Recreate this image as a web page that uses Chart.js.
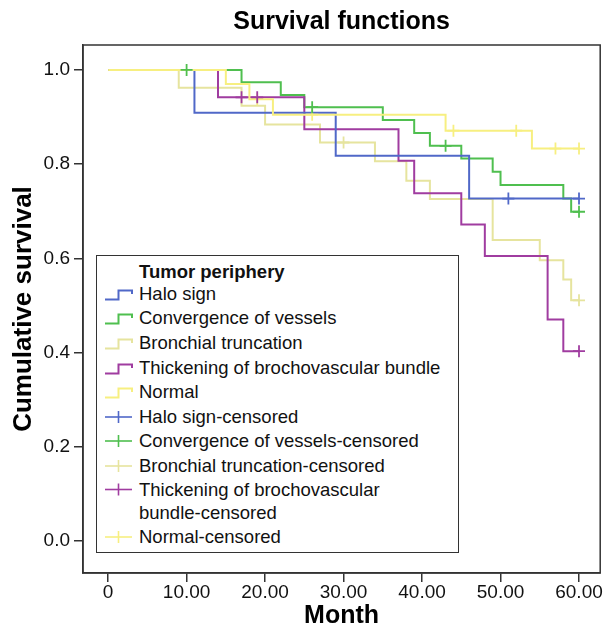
<!DOCTYPE html>
<html>
<head>
<meta charset="utf-8">
<title>Survival functions</title>
<script src="https://cdn.jsdelivr.net/npm/chart.js@4.4.0/dist/chart.umd.min.js"></script>
<style>
  body { margin: 0; background: #fff; }
  #wrap { position: relative; width: 608px; height: 626px; }
  #legend {
    position: absolute; left: 96px; top: 255px; width: 363px; height: 298px;
    box-sizing: border-box; border: 1.2px solid #333; background: #fff;
    padding-top: 4.5px;
    font-family: "Liberation Sans", Arial, sans-serif; font-size: 18.5px; color: #111;
  }
  #legend .head { height: 21px; line-height: 21px; padding-left: 42px; font-weight: bold; }
  #legend .row { display: flex; align-items: center; height: 24.6px; white-space: pre-line; }
  #legend .row.two { height: 46px; align-items: flex-start; line-height: 23px; }
  #legend svg { flex: none; margin-left: 8px; margin-right: 6px; }
</style>
</head>
<body>
<div id="wrap">
  <canvas id="km"></canvas>
  <div id="legend"></div>
</div>
<script>
// groups and colours
var groups = ["Halo sign", "Convergence of vessels", "Bronchial truncation", "Thickening of brochovascular bundle", "Normal"];
var censorLabels = ["Halo sign-censored", "Convergence of vessels-censored", "Bronchial truncation-censored", "Thickening of brochovascular\nbundle-censored", "Normal-censored"];
var colors = ["#5068c8", "#4fbf4f", "#e6e49e", "#a03ca0", "#f7ef80"];

// survival steps (month, cumulative survival)
var haloMonths = [0, 11, 29, 46, 60];
var haloSurv   = [1.0, 0.909, 0.818, 0.727, 0.727];
var convMonths = [0, 17, 22, 25, 35, 39, 41, 45, 49, 50, 58, 59, 60];
var convSurv   = [1.0, 0.974, 0.947, 0.921, 0.894, 0.866, 0.839, 0.812, 0.784, 0.756, 0.727, 0.699, 0.699];
var bronMonths = [0, 9, 17, 20, 27, 34, 38, 41, 49, 55, 58, 59, 60];
var bronSurv   = [1.0, 0.962, 0.924, 0.884, 0.846, 0.806, 0.765, 0.726, 0.639, 0.596, 0.555, 0.511, 0.511];
var thickMonths = [0, 14, 25, 37, 39, 45, 48, 56, 58, 60];
var thickSurv   = [1.0, 0.942, 0.874, 0.807, 0.738, 0.672, 0.605, 0.470, 0.403, 0.403];
var normMonths = [0, 15, 18, 21, 43, 54, 60];
var normSurv   = [1.0, 0.970, 0.938, 0.905, 0.871, 0.833, 0.833];

// censored cases
var haloCensMonths = [51, 60];
var haloCensSurv   = [0.727, 0.727];
var convCensMonths = [10, 26, 43, 60];
var convCensSurv   = [1.0, 0.921, 0.839, 0.699];
var bronCensMonths = [30, 60];
var bronCensSurv   = [0.846, 0.511];
var thickCensMonths = [17, 19, 60];
var thickCensSurv   = [0.942, 0.942, 0.403];
var normCensMonths = [19, 26, 44, 52, 57, 60];
var normCensSurv   = [0.938, 0.905, 0.871, 0.871, 0.833, 0.833];

// axes
var xTicks = [0, 10, 20, 30, 40, 50, 60];
var xTickLabels = ["0", "10.00", "20.00", "30.00", "40.00", "50.00", "60.00"];
var yTicks = [0, 0.2, 0.4, 0.6, 0.8, 1.0];

var FONT = "'Liberation Sans', Arial, sans-serif";

function pts(xs, ys) {
    return xs.map(function (x, i) { return { x: x, y: ys[i] }; });
}

var curves = [
    [haloMonths, haloSurv], [convMonths, convSurv], [bronMonths, bronSurv],
    [thickMonths, thickSurv], [normMonths, normSurv]
];
var censors = [
    [haloCensMonths, haloCensSurv], [convCensMonths, convCensSurv], [bronCensMonths, bronCensSurv],
    [thickCensMonths, thickCensSurv], [normCensMonths, normCensSurv]
];
// lower order is drawn on top
var lineOrder = [2, 5, 4, 3, 1];

var datasets = [];
curves.forEach(function (c, i) {
    datasets.push({
        label: groups[i],
        data: pts(c[0], c[1]),
        borderColor: colors[i],
        borderWidth: 2,
        stepped: 'before',
        pointRadius: 0,
        fill: false,
        order: lineOrder[i]
    });
});
censors.forEach(function (c, i) {
    datasets.push({
        label: censorLabels[i],
        data: pts(c[0], c[1]),
        showLine: false,
        pointStyle: 'cross',
        pointRadius: 6,
        pointBorderWidth: 1.8,
        borderColor: colors[i],
        backgroundColor: colors[i],
        order: 0
    });
});

// box round the plot area
var framePlugin = {
    id: 'frame',
    afterDraw: function (chart) {
        var a = chart.chartArea, ctx = chart.ctx;
        ctx.save();
        ctx.strokeStyle = '#333';
        ctx.lineWidth = 1.5;
        ctx.strokeRect(a.left, a.top, a.right - a.left, a.bottom - a.top);
        ctx.restore();
    }
};

var config = {
    type: 'line',
    data: { datasets: datasets },
    plugins: [framePlugin],
    options: {
        responsive: true,
        maintainAspectRatio: false,
        animation: false,
        layout: { padding: { left: 0, right: 7, top: 0, bottom: 0 } },
        plugins: {
            legend: { display: false },
            tooltip: { enabled: false },
            title: {
                display: true,
                text: 'Survival functions',
                fullSize: false,
                color: '#000',
                font: { family: FONT, size: 25, weight: 'bold', lineHeight: 1.2 },
                padding: { top: 7, bottom: 8 }
            }
        },
        scales: {
            x: {
                type: 'linear',
                min: -3.2,
                max: 62.7,
                afterBuildTicks: function (s) { s.ticks = xTicks.map(function (v) { return { value: v }; }); },
                afterFit: function (s) { s.height = 53; },
                ticks: {
                    autoSkip: false, maxRotation: 0, padding: 1, color: '#111',
                    font: { family: FONT, size: 19, lineHeight: 1 },
                    callback: function (v, i) { return xTickLabels[i]; }
                },
                grid: { drawOnChartArea: false, tickLength: 9, color: '#333', lineWidth: 1.5 },
                border: { color: '#333', width: 1.5 },
                title: {
                    display: true, text: 'Month', color: '#000',
                    font: { family: FONT, size: 25, weight: 'bold', lineHeight: 1 },
                    padding: { top: 0, bottom: -3 }
                }
            },
            y: {
                type: 'linear',
                min: -0.068,
                max: 1.053,
                afterBuildTicks: function (s) { s.ticks = yTicks.map(function (v) { return { value: v }; }); },
                afterFit: function (s) { s.width = 83; },
                ticks: {
                    padding: 4, color: '#111',
                    font: { family: FONT, size: 19 },
                    callback: function (v) { return v.toFixed(1); }
                },
                grid: { drawOnChartArea: false, tickLength: 9, color: '#333', lineWidth: 1.5 },
                border: { color: '#333', width: 1.5 },
                title: {
                    display: true, text: 'Cumulative survival', color: '#000',
                    font: { family: FONT, size: 26, weight: 'bold', lineHeight: 1.2 },
                    padding: { top: 8.5, bottom: 0 }
                }
            }
        }
    }
};

var kmChart = new Chart(document.getElementById('km'), config);

// legend box, built from the same names and colours
function stepIcon(color) {
    return '<svg width="28" height="24" viewBox="0 0 28 24"><polyline points="0,17.5 13.5,17.5 13.5,8.5 27,8.5 27,12" fill="none" stroke="' + color + '" stroke-width="2"/></svg>';
}
function crossIcon(color, h) {
    var c = h / 2;
    return '<svg width="28" height="' + h + '" viewBox="0 0 28 ' + h + '"><line x1="0" y1="' + c + '" x2="27" y2="' + c + '" stroke="' + color + '" stroke-width="1.6"/><line x1="13.5" y1="' + (c - 6) + '" x2="13.5" y2="' + (c + 6) + '" stroke="' + color + '" stroke-width="1.6"/></svg>';
}
var html = '<div class="head">Tumor periphery</div>';
groups.forEach(function (g, i) {
    html += '<div class="row">' + stepIcon(colors[i]) + '<span>' + g + '</span></div>';
});
censorLabels.forEach(function (g, i) {
    var two = g.indexOf('\n') >= 0;
    html += '<div class="row' + (two ? ' two' : '') + '">' + crossIcon(colors[i], two ? 23 : 24) + '<span>' + g + '</span></div>';
});
document.getElementById('legend').innerHTML = html;
</script>
</body>
</html>
